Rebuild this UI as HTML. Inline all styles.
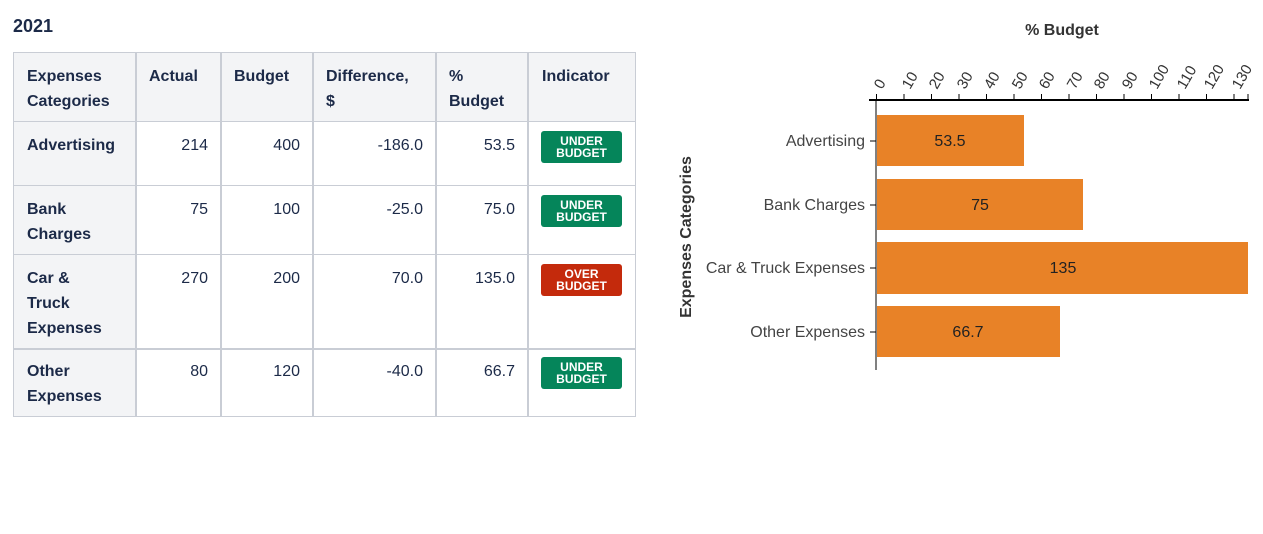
<!DOCTYPE html>
<html><head><style>
body{margin:0;width:1263px;height:534px;background:#fff;font-family:"Liberation Sans",sans-serif;color:#1c2a48;position:relative;overflow:hidden}
.t{position:absolute;font-size:16px;line-height:25px}
.b{font-weight:bold}
.c{position:absolute;box-sizing:border-box;border:1px solid #c9cdd5}
.g{background:#f3f4f6}
.badge{position:absolute;width:81px;height:32px;border-radius:3px;color:#fff;font-weight:bold;font-size:12px;line-height:12px;text-align:center;box-sizing:border-box;padding-top:4px}
</style></head><body>
<div class="t b" style="left:13px;top:14px;font-size:18px">2021</div>
<!-- cells -->
<div class="c g" style="left:13px;top:52px;width:623px;height:70px"></div>
<div class="c g" style="left:13px;top:121px;width:123px;height:296px"></div>
<div class="c" style="left:13px;top:121px;width:623px;height:65px"></div>
<div class="c" style="left:13px;top:185px;width:623px;height:70px"></div>
<div class="c" style="left:13px;top:254px;width:623px;height:95px"></div>
<div class="c" style="left:13px;top:348px;width:623px;height:69px;border-top:2px solid #c9cdd5"></div>
<div class="c" style="left:135px;top:52px;width:1px;height:365px"></div>
<div class="c" style="left:220px;top:52px;width:1px;height:365px"></div>
<div class="c" style="left:312px;top:52px;width:1px;height:365px"></div>
<div class="c" style="left:435px;top:52px;width:1px;height:365px"></div>
<div class="c" style="left:527px;top:52px;width:2px;height:365px"></div>
<!-- header -->
<div class="t b" style="left:27px;top:64px">Expenses<br>Categories</div>
<div class="t b" style="left:149px;top:64px">Actual</div>
<div class="t b" style="left:234px;top:64px">Budget</div>
<div class="t b" style="left:326px;top:64px">Difference,<br>$</div>
<div class="t b" style="left:449px;top:64px">%<br>Budget</div>
<div class="t b" style="left:542px;top:64px">Indicator</div>
<!-- rows -->
<div class="t b" style="left:27px;top:133px">Advertising</div>
<div class="t" style="right:1055px;top:133px">214</div>
<div class="t" style="right:963px;top:133px">400</div>
<div class="t" style="right:840px;top:133px">-186.0</div>
<div class="t" style="right:748px;top:133px">53.5</div>
<div class="badge" style="left:541px;top:131px;background:#05855a">UNDER<br>BUDGET</div>

<div class="t b" style="left:27px;top:197px">Bank<br>Charges</div>
<div class="t" style="right:1055px;top:197px">75</div>
<div class="t" style="right:963px;top:197px">100</div>
<div class="t" style="right:840px;top:197px">-25.0</div>
<div class="t" style="right:748px;top:197px">75.0</div>
<div class="badge" style="left:541px;top:195px;background:#05855a">UNDER<br>BUDGET</div>

<div class="t b" style="left:27px;top:266px">Car &amp;<br>Truck<br>Expenses</div>
<div class="t" style="right:1055px;top:266px">270</div>
<div class="t" style="right:963px;top:266px">200</div>
<div class="t" style="right:840px;top:266px">70.0</div>
<div class="t" style="right:748px;top:266px">135.0</div>
<div class="badge" style="left:541px;top:264px;background:#c42a0c">OVER<br>BUDGET</div>

<div class="t b" style="left:27px;top:359px">Other<br>Expenses</div>
<div class="t" style="right:1055px;top:359px">80</div>
<div class="t" style="right:963px;top:359px">120</div>
<div class="t" style="right:840px;top:359px">-40.0</div>
<div class="t" style="right:748px;top:359px">66.7</div>
<div class="badge" style="left:541px;top:357px;background:#05855a">UNDER<br>BUDGET</div>

<svg style="position:absolute;left:0;top:0" width="1263" height="534" font-family="Liberation Sans, sans-serif">
<text x="1062" y="35" font-size="16" font-weight="bold" text-anchor="middle" fill="#333">% Budget</text>
<text transform="translate(691,237) rotate(-90)" font-size="16" font-weight="bold" text-anchor="middle" fill="#333">Expenses Categories</text>
<line x1="869" y1="100" x2="1249" y2="100" stroke="#000" stroke-width="2"/>
<line x1="876" y1="100" x2="876" y2="370" stroke="#000" stroke-width="1"/>
<g stroke="#000">
<line x1="876.5" y1="94" x2="876.5" y2="100"/><line x1="904" y1="94" x2="904" y2="100"/><line x1="931.5" y1="94" x2="931.5" y2="100"/><line x1="959" y1="94" x2="959" y2="100"/><line x1="986.5" y1="94" x2="986.5" y2="100"/><line x1="1014" y1="94" x2="1014" y2="100"/><line x1="1041.5" y1="94" x2="1041.5" y2="100"/><line x1="1069" y1="94" x2="1069" y2="100"/><line x1="1096.5" y1="94" x2="1096.5" y2="100"/><line x1="1124" y1="94" x2="1124" y2="100"/><line x1="1151.5" y1="94" x2="1151.5" y2="100"/><line x1="1179" y1="94" x2="1179" y2="100"/><line x1="1206.5" y1="94" x2="1206.5" y2="100"/><line x1="1234" y1="94" x2="1234" y2="100"/><line x1="1248" y1="94" x2="1248" y2="100"/>
<line x1="870" y1="141" x2="876" y2="141"/><line x1="870" y1="205" x2="876" y2="205"/><line x1="870" y1="268" x2="876" y2="268"/><line x1="870" y1="332" x2="876" y2="332"/>
</g>
<g font-size="15" fill="#333">
<text transform="translate(882,90) rotate(-60)">0</text>
<text transform="translate(910,90) rotate(-60)">10</text>
<text transform="translate(937,90) rotate(-60)">20</text>
<text transform="translate(965,90) rotate(-60)">30</text>
<text transform="translate(992,90) rotate(-60)">40</text>
<text transform="translate(1020,90) rotate(-60)">50</text>
<text transform="translate(1047,90) rotate(-60)">60</text>
<text transform="translate(1075,90) rotate(-60)">70</text>
<text transform="translate(1102,90) rotate(-60)">80</text>
<text transform="translate(1130,90) rotate(-60)">90</text>
<text transform="translate(1157,90) rotate(-60)">100</text>
<text transform="translate(1185,90) rotate(-60)">110</text>
<text transform="translate(1212,90) rotate(-60)">120</text>
<text transform="translate(1240,90) rotate(-60)">130</text>
</g>
<g fill="#e88227">
<rect x="877" y="115" width="147" height="51"/>
<rect x="877" y="179" width="206" height="51"/>
<rect x="877" y="242" width="371" height="52"/>
<rect x="877" y="306" width="183" height="51"/>
</g>
<g font-size="16" fill="#222" text-anchor="middle">
<text x="950" y="146">53.5</text><text x="980" y="210">75</text><text x="1063" y="273">135</text><text x="968" y="337">66.7</text>
</g>
<g font-size="16" fill="#444" text-anchor="end">
<text x="865" y="146">Advertising</text><text x="865" y="210">Bank Charges</text><text x="865" y="273">Car &amp; Truck Expenses</text><text x="865" y="337">Other Expenses</text>
</g>
</svg>
</body></html>
